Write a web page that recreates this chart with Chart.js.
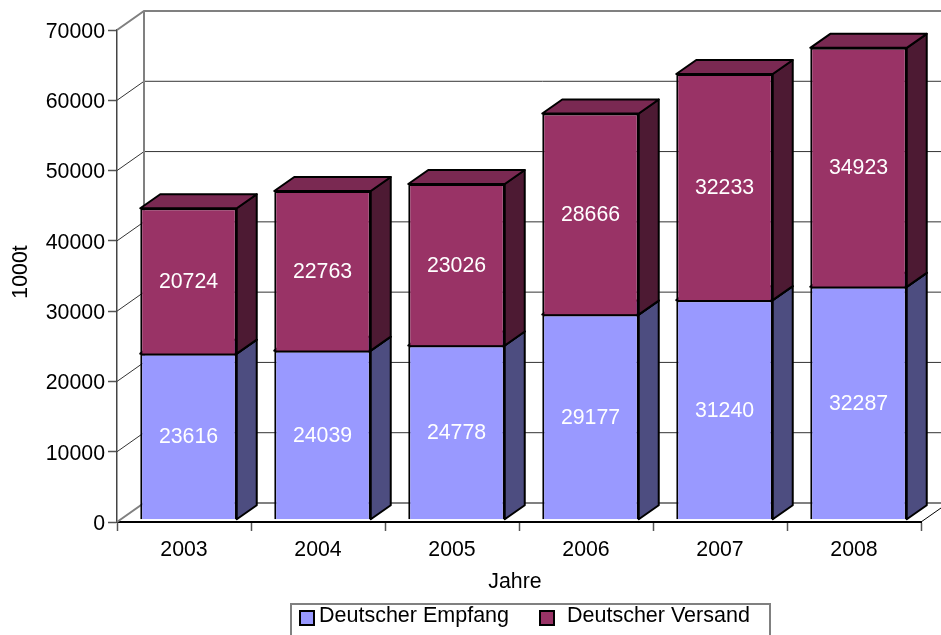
<!DOCTYPE html>
<html>
<head>
<meta charset="utf-8">
<script src="https://cdn.jsdelivr.net/npm/chart.js@4/dist/chart.umd.min.js"></script>
<style>
body { margin: 0; background: #fff; }
canvas { display: block; }
</style>
</head>
<body>
<canvas id="chart" width="941" height="635"></canvas>
<script>
var years = ["2003", "2004", "2005", "2006", "2007", "2008"];
// printed on the bars
var empfang = [23616, 24039, 24778, 29177, 31240, 32287];
var versand = [20724, 22763, 23026, 28666, 32233, 34923];
// bar heights as drawn: the 2008 split in the picture does not follow its printed numbers
var empfangBars = [23616, 24039, 24778, 29177, 31240, 33140];
var versandBars = [20724, 22763, 23026, 28666, 32233, 34070];
var seriesNames = ["Deutscher Empfang", "Deutscher Versand"];
var yTicks = [0, 10000, 20000, 30000, 40000, 50000, 60000, 70000];
var printed = [empfang, versand];

// 3D look of the old spreadsheet chart
var WALL_DX = 27, WALL_DY = -19;
var BAR_SHIFT = 4.5;
var BAR_DX = 20, BAR_DY = -14;
var FONT = "Liberation Sans";
var TEXT_SIZE = 21.3;

var faces = [
  { front: "#9999FF", side: "#4D4D80", top: "#7A7ACC" },
  { front: "#993366", side: "#4D1A33", top: "#7A2952" }
];

function wall(chart) {
  var ctx = chart.ctx, y = chart.scales.y, area = chart.chartArea;
  ctx.save();
  yTicks.forEach(function (t) {
    var py = y.getPixelForValue(t);
    var edge = t === 0 || t === 70000;
    ctx.strokeStyle = edge ? "#808080" : "#333";
    ctx.lineWidth = edge ? 2 : 1;
    ctx.beginPath();
    ctx.moveTo(area.left, py);
    ctx.lineTo(area.left + WALL_DX, py + WALL_DY);
    ctx.lineTo(941, py + WALL_DY);
    ctx.stroke();
  });
  // back corner
  ctx.strokeStyle = "#808080";
  ctx.lineWidth = 2;
  ctx.beginPath();
  ctx.moveTo(area.left + WALL_DX, area.top + WALL_DY);
  ctx.lineTo(area.left + WALL_DX, area.bottom + WALL_DY);
  ctx.stroke();
  // floor edge on the right
  ctx.strokeStyle = "#000";
  ctx.lineWidth = 1;
  ctx.beginPath();
  ctx.moveTo(area.right, area.bottom);
  ctx.lineTo(area.right + 20, area.bottom - 14);
  ctx.stroke();
  ctx.restore();
}

function poly(ctx, pts, fill) {
  ctx.beginPath();
  ctx.moveTo(pts[0][0], pts[0][1]);
  for (var i = 1; i < pts.length; i++) ctx.lineTo(pts[i][0], pts[i][1]);
  ctx.closePath();
  ctx.fillStyle = fill;
  ctx.fill();
  ctx.stroke();
}

var bars3d = {
  id: "bars3d",
  beforeDatasetsDraw: function (chart) {
    var ctx = chart.ctx;
    wall(chart);
    ctx.save();
    ctx.translate(BAR_SHIFT, 0);
    ctx.strokeStyle = "#000";
    ctx.lineWidth = 2;
    ctx.lineJoin = "round";
    chart.data.datasets.forEach(function (ds, i) {
      chart.getDatasetMeta(i).data.forEach(function (bar) {
        var l = bar.x - bar.width / 2, r = bar.x + bar.width / 2;
        poly(ctx, [[r, bar.base], [r + BAR_DX, bar.base + BAR_DY], [r + BAR_DX, bar.y + BAR_DY], [r, bar.y]], faces[i].side);
        poly(ctx, [[l, bar.y], [l + BAR_DX, bar.y + BAR_DY], [r + BAR_DX, bar.y + BAR_DY], [r, bar.y]], faces[i].top);
      });
    });
    // native front faces are drawn next, in the same shifted position
  },
  afterDatasetsDraw: function (chart) {
    var ctx = chart.ctx;
    ctx.fillStyle = "#fff";
    ctx.font = TEXT_SIZE + "px '" + FONT + "'";
    ctx.textAlign = "center";
    ctx.textBaseline = "middle";
    chart.data.datasets.forEach(function (ds, i) {
      chart.getDatasetMeta(i).data.forEach(function (bar, j) {
        ctx.fillText(printed[i][j], bar.x, (bar.y + bar.base) / 2 + 1);
      });
    });
    ctx.restore();
  },
  afterDraw: function (chart) {
    var ctx = chart.ctx;
    ctx.save();
    // axis titles
    ctx.fillStyle = "#000";
    ctx.font = TEXT_SIZE + "px '" + FONT + "'";
    ctx.textAlign = "center";
    ctx.textBaseline = "middle";
    ctx.fillText("Jahre", 515, 582);
    ctx.save();
    ctx.translate(21, 272);
    ctx.rotate(-Math.PI / 2);
    ctx.fillText("1000t", 0, 0);
    ctx.restore();
    // legend, clipped by the bottom of the picture like the original
    ctx.strokeStyle = "#808080";
    ctx.lineWidth = 2;
    ctx.strokeRect(291, 604, 479, 40);
    ctx.textAlign = "left";
    ctx.font = "21.5px '" + FONT + "'";
    ctx.lineWidth = 2;
    ctx.strokeStyle = "#000";
    [[300, 319], [540, 567]].forEach(function (pos, i) {
      ctx.fillStyle = faces[i].front;
      ctx.fillRect(pos[0], 611, 14, 14);
      ctx.strokeRect(pos[0], 611, 14, 14);
      ctx.fillStyle = "#000";
      ctx.fillText(seriesNames[i], pos[1], 616);
    });
    ctx.restore();
  }
};

new Chart("chart", {
  type: "bar",
  data: {
    labels: years,
    datasets: [
      { label: seriesNames[0], data: empfangBars, backgroundColor: faces[0].front, yAxisID: "yBars" },
      { label: seriesNames[1], data: versandBars, backgroundColor: faces[1].front, yAxisID: "yBars" }
    ]
  },
  plugins: [bars3d],
  options: {
    responsive: false,
    animation: false,
    layout: { padding: { top: 30, right: 20, bottom: 0, left: 0 } },
    datasets: {
      bar: {
        barPercentage: 0.72,
        categoryPercentage: 1,
        borderColor: "#000",
        borderWidth: 2,
        clip: false
      }
    },
    scales: {
      x: {
        stacked: true,
        afterFit: function (s) { s.height = 113; },
        border: { color: "#000", width: 2 },
        grid: { drawOnChartArea: false, tickLength: 9, tickColor: "#555", tickWidth: 1.5 },
        ticks: { color: "#000", font: { family: FONT, size: TEXT_SIZE }, padding: 6, maxRotation: 0 }
      },
      y: {
        min: 0,
        max: 70000,
        afterFit: function (s) { s.width = 117; },
        afterBuildTicks: function (s) { s.ticks = yTicks.map(function (v) { return { value: v }; }); },
        border: { color: "#444", width: 1.5 },
        grid: { drawOnChartArea: false, tickLength: 9, tickColor: "#555", tickWidth: 1.5 },
        ticks: { color: "#000", font: { family: FONT, size: TEXT_SIZE }, padding: 3, labelOffset: 2, callback: function (v) { return String(v); } }
      },
      // the bars stand a little behind the front plane, so they get their own scale
      yBars: {
        display: false,
        stacked: true,
        min: -385,
        max: 69750
      }
    },
    plugins: {
      title: { display: false },
      tooltip: { enabled: false },
      legend: { display: false }
    }
  }
});
</script>
</body>
</html>
